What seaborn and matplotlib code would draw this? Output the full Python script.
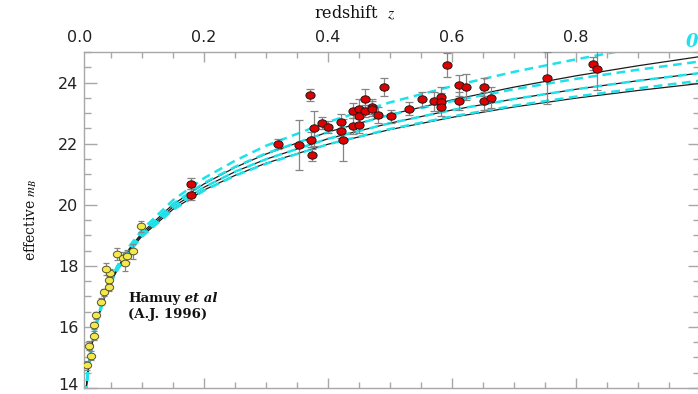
import matplotlib
matplotlib.use("Agg")
import matplotlib.pyplot as plt
import seaborn as sns
from matplotlib.path import Path
from matplotlib.markers import MarkerStyle
from matplotlib.transforms import Affine2D, blended_transform_factory
from matplotlib.ticker import MultipleLocator, FixedLocator, FuncFormatter, FormatStrFormatter

# Calan/Tololo low-redshift supernovae (Hamuy et al. 1996)
low_z = [0.0118, 0.0177, 0.0153, 0.0226, 0.0223, 0.0266, 0.0334, 0.0395, 0.0473,
         0.0476, 0.0479, 0.0423, 0.0597, 0.0689, 0.0723, 0.0766, 0.0852, 0.0984]
low_m = [14.74, 15.06, 15.38, 15.71, 16.05, 16.38, 16.83, 17.13, 17.30,
         17.55, 17.77, 17.90, 18.39, 18.24, 18.09, 18.32, 18.47, 19.29]
low_err = [0.15, 0.15, 0.15, 0.15, 0.12, 0.12, 0.12, 0.12, 0.12,
           0.12, 0.12, 0.20, 0.20, 0.20, 0.25, 0.20, 0.25, 0.18]

# High-redshift supernovae
high_z = [0.1785, 0.1785, 0.3189, 0.3537, 0.3710, 0.3721, 0.3747, 0.3777, 0.3903,
          0.4000, 0.4202, 0.4202, 0.4250, 0.4403, 0.4403, 0.4503, 0.4503, 0.4503,
          0.4589, 0.4605, 0.4702, 0.4713, 0.4806, 0.4908, 0.5011, 0.5310, 0.5513,
          0.5713, 0.5815, 0.5815, 0.5815, 0.5915, 0.6113, 0.6118, 0.6218, 0.6521,
          0.6521, 0.6624, 0.7527, 0.8279, 0.8334]
high_m = [20.69, 20.33, 21.99, 21.96, 23.59, 22.13, 21.63, 22.50, 22.67,
          22.55, 22.72, 22.43, 22.12, 23.08, 22.58, 23.15, 22.91, 22.60,
          23.07, 23.45, 23.21, 23.15, 22.94, 23.85, 22.89, 23.15, 23.45,
          23.38, 23.54, 23.37, 23.21, 24.58, 23.91, 23.39, 23.86, 23.86,
          23.40, 23.51, 24.15, 24.62, 24.44]
high_err = [0.18, 0.18, 0.17, 0.82, 0.20, 0.25, 0.20, 0.57, 0.20,
            0.20, 0.25, 0.25, 0.68, 0.25, 0.25, 0.30, 0.25, 0.25,
            0.20, 0.35, 0.25, 0.25, 0.25, 0.30, 0.20, 0.20, 0.25,
            0.30, 0.30, 0.30, 0.30, 0.40, 0.35, 0.30, 0.43, 0.30,
            0.30, 0.35, 0.84, 0.20, 0.68]

# Model magnitude-redshift relations, labelled by (Omega_M, Omega_Lambda)
curve_z = [0.008, 0.01, 0.0125, 0.015, 0.02, 0.025, 0.03, 0.04, 0.05, 0.06, 0.08, 0.1,
           0.15, 0.2, 0.25, 0.3, 0.4, 0.5, 0.6, 0.7, 0.8, 0.9, 1.0]
m_00 = [13.49, 13.98, 14.47, 14.87, 15.50, 15.99, 16.39, 17.02, 17.52, 17.92, 18.57, 19.08,
        20.01, 20.68, 21.22, 21.66, 22.38, 22.95, 23.43, 23.85, 24.22, 24.55, 24.85]
m_10 = [13.49, 13.98, 14.46, 14.86, 15.49, 15.97, 16.37, 17.00, 17.49, 17.89, 18.53, 19.02,
        19.93, 20.57, 21.08, 21.49, 22.16, 22.67, 23.10, 23.46, 23.78, 24.06, 24.31]
m_20 = [13.49, 13.97, 14.45, 14.85, 15.48, 15.96, 16.36, 16.98, 17.46, 17.86, 18.49, 18.97,
        19.85, 20.48, 20.96, 21.36, 21.98, 22.46, 22.86, 23.20, 23.49, 23.74, 23.97]
m_01 = [13.50, 13.99, 14.48, 14.88, 15.52, 16.01, 16.42, 17.07, 17.57, 17.99, 18.65, 19.18,
        20.15, 20.87, 21.44, 21.93, 22.71, 23.35, 23.88, 24.35, 24.76, 25.14, 25.48]
m_55 = [13.50, 13.98, 14.47, 14.87, 15.50, 15.99, 16.40, 17.03, 17.53, 17.94, 18.59, 19.10,
        20.03, 20.71, 21.24, 21.68, 22.38, 22.94, 23.39, 23.78, 24.12, 24.42, 24.69]
m_15 = [13.48, 13.97, 14.45, 14.85, 15.47, 15.95, 16.35, 16.97, 17.45, 17.85, 18.47, 18.95,
        19.83, 20.46, 20.95, 21.34, 21.98, 22.48, 22.89, 23.24, 23.54, 23.81, 24.06]

solid_curves = [m_00, m_10, m_20]
dashed_curves = [m_01, m_55, m_10, m_15]

top_ticks = [0.2, 0.4, 0.6, 0.8]

sns.set_theme(style="ticks")
plt.rcParams["font.family"] = ["DejaVu Sans"]
plt.rcParams["mathtext.fontset"] = "stix"

W, H = 698, 394
fig = plt.figure(figsize=(W / 100, H / 100), dpi=100)
fig.patch.set_facecolor("white")
ax = fig.add_axes([84 / W, (H - 388) / H, (700 - 84) / W, (388 - 52) / H])
ax.set_facecolor("white")
ax.set_xlim(0.0065, 1.0)
ax.set_ylim(14, 25)

cyan = "#1ee2ea"
for m in solid_curves:
    sns.lineplot(x=curve_z, y=m, ax=ax, estimator=None, sort=False,
                 color="#1c1c1c", lw=0.9, zorder=2)
for m in dashed_curves:
    sns.lineplot(x=curve_z, y=m, ax=ax, estimator=None, sort=False,
                 color=cyan, lw=1.8, linestyle=(0, (3.5, 2.2)), zorder=2.5)

# slightly wide oval markers
oval = MarkerStyle(Path.unit_circle().transformed(Affine2D().scale(1.25, 1.0)))

ax.errorbar(low_z, low_m, yerr=low_err, fmt="none", ecolor="#858585",
            elinewidth=0.9, capsize=2.5, capthick=0.9, zorder=3)
ax.errorbar(high_z, high_m, yerr=high_err, fmt="none", ecolor="#858585",
            elinewidth=0.9, capsize=3, capthick=0.9, zorder=3)
sns.scatterplot(x=low_z, y=low_m, ax=ax, marker=oval, s=36, color="#f4e84a",
                edgecolor="#555533", linewidth=0.7, zorder=4)
sns.scatterplot(x=high_z, y=high_m, ax=ax, marker=oval, s=44, color="#e00000",
                edgecolor="#1a1a1a", linewidth=0.7, zorder=5)

# axes frame and ticks
for sp in ax.spines.values():
    sp.set_visible(True)
    sp.set_color("#a8a8a8")
    sp.set_linewidth(1.0)

ax.xaxis.set_major_locator(FixedLocator(top_ticks))
ax.xaxis.set_minor_locator(MultipleLocator(0.05))
ax.xaxis.set_major_formatter(FormatStrFormatter("%.1f"))
ax.yaxis.set_major_locator(MultipleLocator(2))
ax.yaxis.set_minor_locator(MultipleLocator(0.5))
# the lowest label is placed separately so it stays inside the canvas
ax.yaxis.set_major_formatter(FuncFormatter(lambda v, p: "" if v < 15 else f"{v:.0f}"))

ax.tick_params(axis="x", which="both", direction="in", top=True, bottom=True,
               labeltop=True, labelbottom=False, color="#a8a8a8",
               labelcolor="#222222", labelsize=11.5, pad=5)
ax.tick_params(axis="x", which="major", length=7, width=1)
ax.tick_params(axis="x", which="minor", length=4.5, width=1)
ax.tick_params(axis="y", which="both", direction="in", left=True, right=True,
               labelleft=True, labelright=False, color="#a8a8a8",
               labelcolor="#222222", labelsize=11.5, pad=4)
ax.tick_params(axis="y", which="major", length=9, width=1)
ax.tick_params(axis="y", which="minor", length=5, width=1)

fig.text(79 / W, 1 - 393 / H, "14", ha="right", va="bottom",
         fontsize=11.5, color="#222222")

# the 0.0 label sits just left of the frame
ax.annotate("0.0", xy=(0.0, 1.0),
            xycoords=blended_transform_factory(ax.transData, ax.transAxes),
            xytext=(0, 5), textcoords="offset points", ha="center", va="bottom",
            fontsize=11.5, color="#222222", annotation_clip=False)

# axis titles
fig.text(355 / W, 1 - 13 / H, r"redshift  $z$", ha="center", va="center",
         family="DejaVu Serif", fontsize=11.5, color="#111111")
fig.text(31 / W, 1 - 220 / H, r"effective $m_B$", ha="center", va="center",
         rotation=90, family="DejaVu Serif", fontsize=10, color="#111111")

# source annotation
t1 = fig.text(128 / W, 1 - 302 / H, "Hamuy", ha="left", va="baseline",
              family="DejaVu Serif", fontweight="bold", fontsize=9.5, color="#111111")
ax.annotate(" et al", xy=(1, 0), xycoords=t1, ha="left", va="bottom",
            family="DejaVu Serif", fontweight="bold", fontstyle="italic",
            fontsize=9.5, color="#111111")
fig.text(128 / W, 1 - 318 / H, "(A.J. 1996)", ha="left", va="baseline",
         family="DejaVu Serif", fontweight="bold", fontsize=9.5, color="#111111")

# curve label at the upper right
fig.text(686 / W, 1 - 47 / H, "0", ha="left", va="baseline",
         family="DejaVu Serif", fontweight="bold", fontstyle="italic",
         fontsize=13, color=cyan)

fig.savefig("out.png", dpi=100)
